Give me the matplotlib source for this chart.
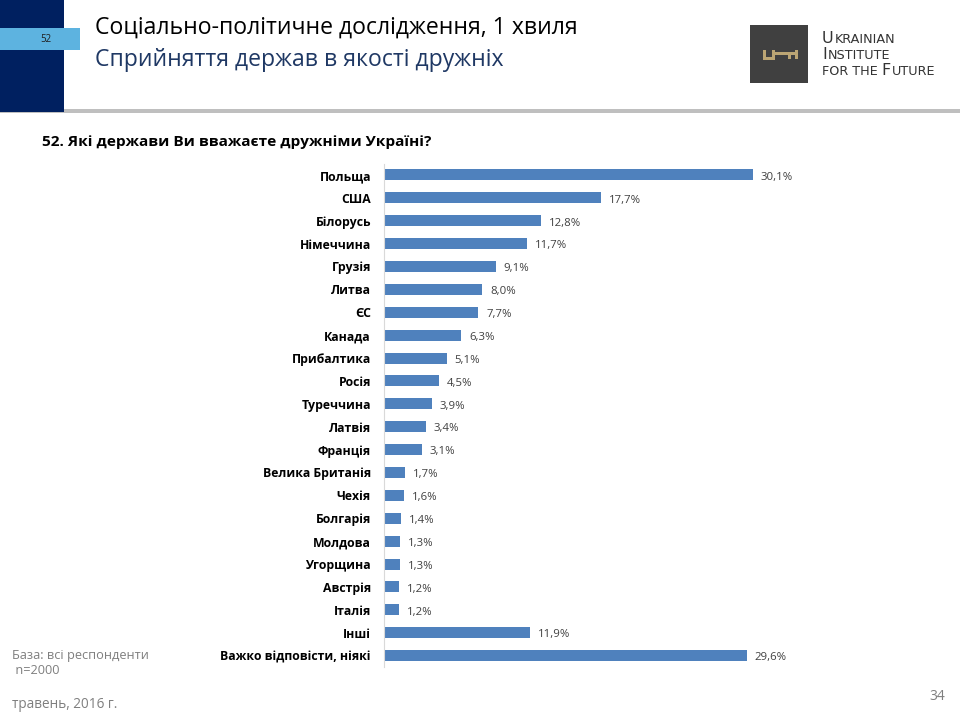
import matplotlib
matplotlib.use("Agg")
import matplotlib.pyplot as plt
from matplotlib.patches import Rectangle

plt.rcParams['font.family'] = ['Open Sans', 'DejaVu Sans']

categories = ["Польща", "США", "Білорусь", "Німеччина", "Грузія", "Литва", "ЄС",
              "Канада", "Прибалтика", "Росія", "Туреччина", "Латвія", "Франція",
              "Велика Британія", "Чехія", "Болгарія", "Молдова", "Угорщина",
              "Австрія", "Італія", "Інші", "Важко відповісти, ніякі"]
values = [30.1, 17.7, 12.8, 11.7, 9.1, 8.0, 7.7, 6.3, 5.1, 4.5, 3.9, 3.4, 3.1,
          1.7, 1.6, 1.4, 1.3, 1.3, 1.2, 1.2, 11.9, 29.6]

W, H = 960, 720
fig = plt.figure(figsize=(W / 100, H / 100), dpi=100)

# header decoration, drawn in pixel coordinates
bg = fig.add_axes([0, 0, 1, 1])
bg.set_xlim(0, W)
bg.set_ylim(H, 0)
bg.axis('off')
bg.add_patch(Rectangle((0, 109), W, 4, color='#BFBFBF', lw=0))
bg.add_patch(Rectangle((0, 0), 64, 112, color='#002060', lw=0))
bg.add_patch(Rectangle((0, 28), 80, 22, color='#5DB3E0', lw=0))
bg.text(46, 39, "52", fontsize=7, color='#1F1F1F', ha='center', va='center')

bg.text(95, 28, "Соціально-політичне дослідження, 1 хвиля", fontsize=16.6,
        color='black', va='center')
bg.text(95, 60, "Сприйняття держав в якості дружніх", fontsize=16.6,
        color='#1F3864', va='center')

# logo
bg.add_patch(Rectangle((750, 25), 58, 58, color='#404040', lw=0))
gold = '#BBA574'
bg.add_patch(Rectangle((763, 50), 3, 10, color=gold, lw=0))
bg.add_patch(Rectangle((763, 57), 12, 3, color=gold, lw=0))
bg.add_patch(Rectangle((772, 50), 3, 10, color=gold, lw=0))
bg.add_patch(Rectangle((775, 52), 23, 3, color=gold, lw=0))
bg.add_patch(Rectangle((788, 52), 3, 7, color=gold, lw=0))
bg.add_patch(Rectangle((795, 50), 3, 9, color=gold, lw=0))

logo_kw = dict(color='#333333', family='DejaVu Sans')
for i, (big, small) in enumerate([("U", "KRAINIAN"), ("I", "NSTITUTE")]):
    t = bg.text(822, 43 + i * 16, big, fontsize=11.5, va='baseline', **logo_kw)
    bg.annotate(small, xy=(1, 0), xycoords=t, xytext=(0.5, 0), textcoords='offset points',
                fontsize=9.2, va='bottom', **logo_kw)
t = bg.text(822, 75, "FOR THE ", fontsize=9.2, va='baseline', **logo_kw)
t2 = bg.annotate("F", xy=(1, 0), xycoords=t, xytext=(0, 0), textcoords='offset points',
                 fontsize=11.5, va='bottom', **logo_kw)
bg.annotate("UTURE", xy=(1, 0), xycoords=t2, xytext=(0.5, 0), textcoords='offset points',
            fontsize=9.2, va='bottom', **logo_kw)

bg.text(42, 142, "52. Які держави Ви вважаєте дружніми Україні?", fontsize=11.1,
        fontweight='bold', color='black', va='center')

# footer
bg.text(12, 655, "База: всі респонденти", fontsize=9.2, color='#7F7F7F', va='center')
bg.text(12, 670, " n=2000", fontsize=9.2, color='#7F7F7F', va='center')
bg.text(12, 704, "травень, 2016 г.", fontsize=9.8, color='#7F7F7F', va='center')
bg.text(945, 697, "34", fontsize=10, color='#7F7F7F', va='center', ha='right')

# chart
left, top, right, bottom = 384, 163.5, 900, 667
ax = fig.add_axes([left / W, 1 - bottom / H, (right - left) / W, (bottom - top) / H])
scale = 12.26
ypos = list(range(len(categories)))
ax.barh(ypos, values, height=0.48, color='#4F81BD')
ax.set_xlim(0, (right - left) / scale)
ax.set_ylim(len(categories) - 0.5, -0.5)
for y, v in zip(ypos, values):
    ax.text(v + 0.65, y + 0.1, f"{v:.1f}%".replace('.', ','), fontsize=8.2,
            color='#404040', va='center', ha='left')
ax.set_yticks(ypos)
ax.set_yticklabels(categories, fontsize=8.8, fontweight='bold')
ax.tick_params(axis='y', length=0, pad=9.4)
ax.set_xticks([])
for s in ['top', 'right', 'bottom']:
    ax.spines[s].set_visible(False)
ax.spines['left'].set_color('#D9D9D9')
ax.patch.set_alpha(0)

fig.savefig("out.png", dpi=100)
